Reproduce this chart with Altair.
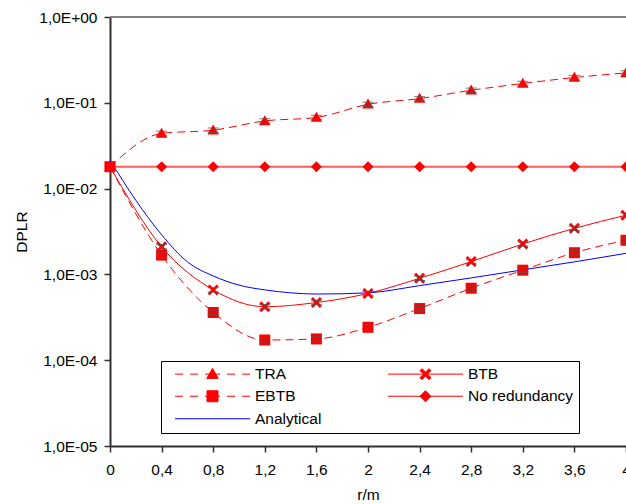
import math
import altair as alt
import pandas as pd

# ---------------- data ----------------
r_values = [0.0, 0.4, 0.8, 1.2, 1.6, 2.0, 2.4, 2.8, 3.2, 3.6, 4.0]
tra = [0.018, 0.044, 0.048, 0.0615, 0.0675, 0.096, 0.112, 0.140, 0.168, 0.197, 0.223]
btb = [0.018, 0.0021, 6.6e-4, 4.2e-4, 4.7e-4, 6.0e-4, 9.0e-4, 1.41e-3, 2.26e-3, 3.44e-3, 4.9e-3]
ebtb = [0.018, 1.68e-3, 3.6e-4, 1.72e-4, 1.77e-4, 2.42e-4, 4.0e-4, 6.9e-4, 1.12e-3, 1.79e-3, 2.5e-3]
no_redundancy = [0.018, 0.018, 0.018, 0.018, 0.018, 0.018, 0.018, 0.018, 0.018, 0.018, 0.018]
analytical_r = [0.0, 0.2, 0.4, 0.6, 0.8, 1.0, 1.2, 1.4, 1.6, 2.0, 2.4, 2.8, 3.2, 3.6, 4.0]
analytical = [0.0215, 0.0073, 0.0029, 1.4e-3, 9.6e-4, 7.5e-4, 6.6e-4, 6.1e-4, 5.9e-4, 6.1e-4,
              7.4e-4, 9.1e-4, 1.13e-3, 1.4e-3, 1.76e-3]
error_factor = 1.06  # half-height of the small error caps (relative)

series_names = ["TRA", "BTB", "EBTB", "No redundancy", "Analytical"]
x_ticks = [0, 0.4, 0.8, 1.2, 1.6, 2, 2.4, 2.8, 3.2, 3.6, 4]
y_ticks = [1e-5, 1e-4, 1e-3, 1e-2, 1e-1, 1]
x_min, x_max = 0, 4
y_min, y_max = 1e-5, 1

rows = []
for name, vals in [("TRA", tra), ("BTB", btb), ("EBTB", ebtb), ("No redundancy", no_redundancy)]:
    for r, v in zip(r_values, vals):
        rows.append({"r": r, "dplr": v, "series": name})
for r, v in zip(analytical_r, analytical):
    rows.append({"r": r, "dplr": v, "series": "Analytical"})
df = pd.DataFrame(rows)

# ---------------- marker / legend symbol geometry ----------------
def fmt(v):
    return f"{v:.3f}".rstrip("0").rstrip(".") if v != 0 else "0"

def x_marker(ext=1.1, a=0.28):
    L = ext * math.sqrt(2) - a
    pts = [(a, L), (a, a), (L, a), (L, -a), (a, -a), (a, -L), (-a, -L), (-a, -a),
           (-L, -a), (-L, a), (-a, a), (-a, L)]
    rot = [((x - y) / math.sqrt(2), (x + y) / math.sqrt(2)) for x, y in pts]
    return "M" + " L".join(f"{fmt(x)},{fmt(y)}" for x, y in rot) + " Z"

TRI = "M0,-1.15 L1.15,0.85 L-1.15,0.85 Z"
SQR = "M-1.1,-1.1 L1.1,-1.1 L1.1,1.1 L-1.1,1.1 Z"
DIA = "M0,-1.1 L1.1,0 L0,1.1 L-1.1,0 Z"
XMK = x_marker()

def line_path(dashed):
    if dashed:
        segs = [(-7.5, -5.9), (-4.5, -2.9), (-1.5, 1.5), (2.9, 4.5), (5.9, 7.5)]
    else:
        segs = [(-7.5, 7.5)]
    return " ".join(f"M{fmt(a)},0 L{fmt(b)},0" for a, b in segs)

legend_shapes = [
    line_path(True) + " " + TRI,
    line_path(False) + " " + XMK,
    line_path(True) + " " + SQR,
    line_path(False) + " " + DIA,
    line_path(False),
]
legend_colors = ["#ff0000", "#ff0000", "#ff0000", "#ff0000", "#0000ff"]

# ---------------- encodings ----------------
FONT = "Liberation Sans"
FS = 15.5

x_scale = alt.Scale(domain=[x_min, x_max], nice=False, zero=False)
y_scale = alt.Scale(type="log", domain=[y_min, y_max], nice=False)

x_axis = alt.Axis(values=x_ticks, labelExpr="replace(format(datum.value, '~g'), '.', ',')",
                  title="r/m", tickSize=6, labelPadding=10, titlePadding=10,
                  labelFlush=False, labelOverlap=False)
y_axis = alt.Axis(values=y_ticks, title="DPLR", tickSize=6, labelPadding=7, titlePadding=9,
                  labelExpr="'1,0E' + (round(log(datum.value)/LN10) < 0 ? '-' : '+') + '0' + abs(round(log(datum.value)/LN10))")

X = alt.X("r:Q", scale=x_scale, axis=x_axis)
Y = alt.Y("dplr:Q", scale=y_scale, axis=y_axis)

base = alt.Chart(df)

def sel(name):
    return base.transform_filter(alt.datum.series == name)

DASH = [8, 5]
layers = []

# top frame line of the plot area (at the top of the y domain)
layers.append(base.mark_rule(color="#808080", strokeWidth=2).encode(
    x=alt.X(datum=x_min, type="quantitative", scale=x_scale, axis=x_axis),
    x2=alt.X2(datum=x_max),
    y=alt.Y(datum=y_max, type="quantitative", scale=y_scale, axis=y_axis),
))

# lines
layers.append(sel("No redundancy").mark_line(color="#ff5c5c", strokeWidth=2).encode(x=X, y=Y))
layers.append(sel("TRA").mark_line(color="#ff0000", strokeWidth=1, strokeDash=DASH, interpolate="monotone").encode(x=X, y=Y))
layers.append(sel("EBTB").mark_line(color="#ff0000", strokeWidth=1, strokeDash=DASH, interpolate="monotone").encode(x=X, y=Y))
layers.append(sel("BTB").mark_line(color="#ff0000", strokeWidth=1, interpolate="monotone").encode(x=X, y=Y))
layers.append(sel("Analytical").mark_line(color="#0000ff", strokeWidth=1, interpolate="monotone").encode(x=X, y=Y))

# markers
for name, shape in [("TRA", TRI), ("BTB", XMK), ("No redundancy", DIA), ("EBTB", SQR)]:
    layers.append(sel(name).mark_point(shape=shape, filled=True, color="#ff0000", size=100,
                                       opacity=1, strokeWidth=0).encode(x=X, y=Y))

# error caps
caps = base.transform_filter(
    "(datum.series == 'TRA' || datum.series == 'BTB' || datum.series == 'EBTB') && datum.r > 0"
).transform_calculate(hi=f"datum.dplr * {error_factor}", lo=f"datum.dplr / {error_factor}")
for fld in ["hi", "lo"]:
    layers.append(caps.mark_tick(orient="horizontal", size=11, thickness=1, color="#555555", opacity=0.8)
                  .encode(x=X, y=alt.Y(f"{fld}:Q", scale=y_scale, axis=y_axis)))

# legend-only layer (no data drawn)
leg = alt.Legend(
    orient="none", legendX=51, legendY=344, columns=2, direction="horizontal", title=None,
    padding=5, strokeColor="#000000", fillColor="#ffffff",
    symbolSize=100, symbolStrokeWidth=1, symbolOpacity=1,
    symbolOffset=38.75, labelOffset=34.75, rowPadding=5.5, columnPadding=57,
    labelFont=FONT, labelFontSize=FS, labelColor="#000000", labelLimit=400, labelBaseline="middle")
layers.append(base.transform_filter("false").mark_point(filled=True, opacity=1, size=100, strokeWidth=1).encode(
    x=X, y=Y,
    shape=alt.Shape("series:N", scale=alt.Scale(domain=series_names, range=legend_shapes), legend=leg),
    fill=alt.Fill("series:N", scale=alt.Scale(domain=series_names, range=legend_colors), legend=leg),
    stroke=alt.Stroke("series:N", scale=alt.Scale(domain=series_names, range=legend_colors), legend=leg),
))

chart = alt.layer(*layers).properties(
    width=516, height=429,
    padding={"left": 110, "top": 17, "right": 0, "bottom": 58},
    autosize=alt.AutoSizeParams(type="none"),
    background="#ffffff",
).configure_view(stroke=None).configure_axis(
    grid=False, labelFont=FONT, labelFontSize=FS, labelColor="#000000",
    titleFont=FONT, titleFontSize=FS, titleFontWeight="normal", titleColor="#000000",
    domainColor="#303030", domainWidth=2, tickColor="#303030", tickWidth=1.5,
)

chart.save("out.html", embed_options={"renderer": "svg", "actions": False})
